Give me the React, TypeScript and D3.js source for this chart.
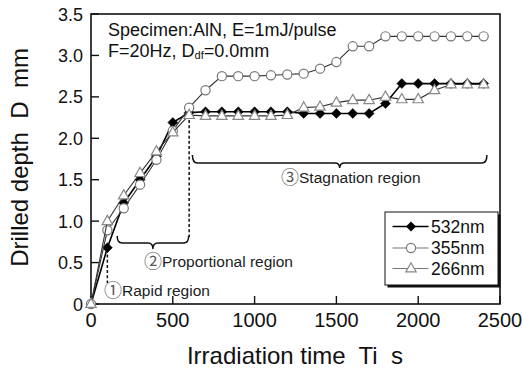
import React from "react";
import * as d3 from "d3";

const times = [0, 100, 200, 300, 400, 500, 600, 700, 800, 900, 1000, 1100, 1200, 1300, 1400, 1500, 1600, 1700, 1800, 1900, 2000, 2100, 2200, 2300, 2400];
const s532 = [0, 0.68, 1.22, 1.5, 1.78, 2.19, 2.31, 2.32, 2.32, 2.32, 2.32, 2.32, 2.32, 2.3, 2.3, 2.3, 2.3, 2.3, 2.42, 2.66, 2.66, 2.66, 2.66, 2.66, 2.66];
const s355 = [0, 0.89, 1.155, 1.44, 1.74, 2.09, 2.37, 2.58, 2.75, 2.75, 2.75, 2.76, 2.77, 2.78, 2.84, 2.92, 3.11, 3.11, 3.23, 3.23, 3.23, 3.23, 3.23, 3.23, 3.23];
const s266 = [0, 1.0, 1.31, 1.58, 1.84, 2.07, 2.28, 2.27, 2.27, 2.27, 2.27, 2.27, 2.28, 2.37, 2.38, 2.43, 2.46, 2.46, 2.5, 2.47, 2.47, 2.58, 2.65, 2.65, 2.65];
const seriesNames = ["532nm", "355nm", "266nm"];
const xTicks = [0, 500, 1000, 1500, 2000, 2500];
const yTicks = [0, 0.5, 1.0, 1.5, 2.0, 2.5, 3.0, 3.5];
const notes = [
  { mark: "①", label: "Rapid region" },
  { mark: "②", label: "Proportional region" },
  { mark: "③", label: "Stagnation region" },
];

const FONT = "'Liberation Sans', Arial, Helvetica, sans-serif";
const CJK = "'Noto Sans CJK JP', 'Noto Sans CJK SC', sans-serif";

function diamond(cx: number, cy: number, r: number) {
  return `M${cx},${cy - r}L${cx + r},${cy}L${cx},${cy + r}L${cx - r},${cy}Z`;
}
function triangle(cx: number, cy: number) {
  return `M${cx},${cy - 5.8}L${cx + 5.2},${cy + 3.4}L${cx - 5.2},${cy + 3.4}Z`;
}
function brace(x1: number, x2: number, y: number, h: number, tip: number) {
  const xm = (x1 + x2) / 2;
  const r = 5;
  return `M${x1},${y - h} Q${x1},${y} ${x1 + r},${y} L${xm - r},${y} Q${xm},${y} ${xm},${y + tip} Q${xm},${y} ${xm + r},${y} L${x2 - r},${y} Q${x2},${y} ${x2},${y - h}`;
}

export default function App() {
  const W = 523, H = 371;
  const x = d3.scaleLinear().domain([0, 2500]).range([91, 500]);
  const y = d3.scaleLinear().domain([0, 3.5]).range([304, 14]);
  const line = d3.line<number>().x((_, i) => x(times[i])).y((v) => y(v));

  const legX = 385, legY = 212, legW = 113, legH = 73;
  const rows = [226.5, 248, 268.5];
  const notePos = [
    { x: 104, y: 295.5 },
    { x: 144, y: 267 },
    { x: 281, y: 183 },
  ];

  return (
    <svg width={W} height={H} style={{ position: "absolute", left: 0, top: 0, background: "#fff" }} fontFamily={FONT}>
      <rect x={0} y={0} width={W} height={H} fill="#fff" />
      <rect x={x(0)} y={y(3.5)} width={x(2500) - x(0)} height={y(0) - y(3.5)} fill="none" stroke="#111" strokeWidth={1.6} />
      {yTicks.map((t) => (
        <g key={"y" + t}>
          <line x1={x(0)} x2={x(0) + 8} y1={y(t)} y2={y(t)} stroke="#111" strokeWidth={1.4} />
          <text x={83} y={y(t) + 6.5} fontSize={18} textAnchor="end" fill="#111">{t === 0 ? "0" : t.toFixed(1)}</text>
        </g>
      ))}
      {xTicks.map((t) => (
        <g key={"x" + t}>
          <line x1={x(t)} x2={x(t)} y1={y(0)} y2={y(0) - 8} stroke="#111" strokeWidth={1.4} />
          <text x={x(t)} y={327} fontSize={20} textAnchor="middle" fill="#111">{t}</text>
        </g>
      ))}
      <text x={295} y={364} fontSize={24} textAnchor="middle" fill="#111" style={{ whiteSpace: "pre" }}>{"Irradiation time  Ti  s"}</text>
      <text transform={`translate(28,157.5) rotate(-90)`} fontSize={24} textAnchor="middle" fill="#111" style={{ whiteSpace: "pre" }}>{"Drilled depth  D  mm"}</text>

      <text x={108} y={36} fontSize={18} fill="#111">Specimen:AlN, E=1mJ/pulse</text>
      <text x={108} y={56.5} fontSize={18} fill="#111">
        F=20Hz, D<tspan fontSize={11} dy={2}>df</tspan><tspan dy={-2}>=0.0mm</tspan>
      </text>

      <line x1={x(100)} x2={x(100)} y1={y(0.66)} y2={283} stroke="#111" strokeWidth={1.5} strokeDasharray="3,2.2" />
      <line x1={x(600)} x2={x(600)} y1={y(2.22)} y2={237} stroke="#111" strokeWidth={1.5} strokeDasharray="3,2.2" />

      <path d={brace(x(160), x(597), 243, 7, 6)} fill="none" stroke="#111" strokeWidth={1.5} />
      <path d={brace(x(620), x(2420), 163, 8, 5)} fill="none" stroke="#111" strokeWidth={1.5} />

      {notes.map((n, k) => (
        <text key={n.label} x={notePos[k].x} y={notePos[k].y} fontSize={15.5} fill="#222">
          <tspan fontFamily={CJK} fontSize={18} dy={1} fill="#555">{n.mark}</tspan><tspan dy={-1}>{n.label}</tspan>
        </text>
      ))}

      <path d={line(s532) || ""} fill="none" stroke="#000" strokeWidth={1.6} />
      {s532.map((v, i) => (
        <path key={"d" + i} d={diamond(x(times[i]), y(v), 5)} fill="#000" stroke="#000" strokeWidth={0.5} />
      ))}
      <path d={line(s355) || ""} fill="none" stroke="#333" strokeWidth={1.1} />
      {s355.map((v, i) => (
        <circle key={"c" + i} cx={x(times[i])} cy={y(v)} r={4.6} fill="#fff" stroke="#777" strokeWidth={1.2} />
      ))}
      <path d={line(s266) || ""} fill="none" stroke="#333" strokeWidth={1.1} />
      {s266.map((v, i) => (
        <path key={"t" + i} d={triangle(x(times[i]), y(v))} fill="#fff" stroke="#888" strokeWidth={1.2} />
      ))}

      <rect x={legX + 2.5} y={legY + 2.5} width={legW} height={legH} fill="#111" />
      <rect x={legX} y={legY} width={legW} height={legH} fill="#fff" stroke="#111" strokeWidth={1} />
      {seriesNames.map((n, k) => (
        <g key={n}>
          <line x1={392.5} x2={428.5} y1={rows[k]} y2={rows[k]} stroke={k === 0 ? "#000" : "#777"} strokeWidth={k === 0 ? 1.6 : 1.2} />
          {k === 0 && <path d={diamond(411, rows[0], 5)} fill="#000" />}
          {k === 1 && <circle cx={411} cy={rows[1]} r={4.6} fill="#fff" stroke="#777" strokeWidth={1.2} />}
          {k === 2 && <path d={triangle(411, rows[2])} fill="#fff" stroke="#888" strokeWidth={1.2} />}
          <text x={431} y={rows[k] + 6.3} fontSize={17.5} fill="#111">{n}</text>
        </g>
      ))}
    </svg>
  );
}
